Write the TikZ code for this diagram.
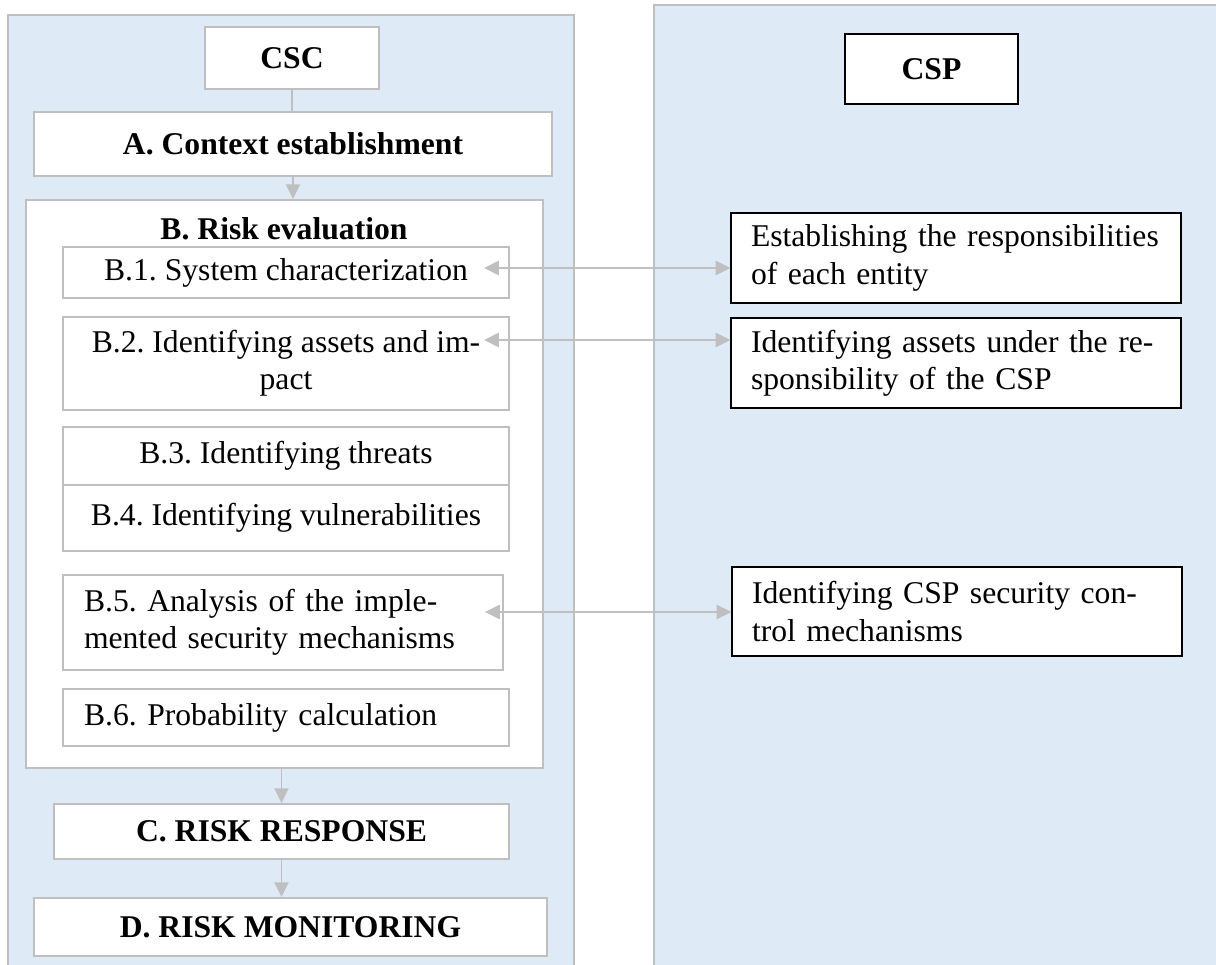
\documentclass[tikz,border=0pt]{standalone}
\usepackage{fontspec}
\setmainfont{Liberation Serif}
\usepackage{tikz}
\usetikzlibrary{arrows.meta,positioning,calc}
\tikzset{>=Latex}
\definecolor{panelblue}{RGB}{222,234,246}
\definecolor{linegray}{RGB}{191,191,191}
\def\px{0.025cm}
\def\lw{1.4pt}
\def\boxfont{\fontsize{22.5}{26.5}\selectfont\frenchspacing}
\tikzset{
  panel/.style={draw=linegray,fill=panelblue,line width=\lw},
  stepbox/.style={rectangle,draw=linegray,fill=white,line width=\lw,inner sep=0pt,align=center},
  headbox/.style={stepbox,font=\boxfont\bfseries},
  leftbox/.style={stepbox,align=left,text width=404*\px,inner xsep=21*\px},
  cspbox/.style={rectangle,draw=black,fill=white,line width=0.8pt,align=left,text width=410*\px,inner xsep=20*\px,inner ysep=0pt,minimum height=90*\px},
  flow/.style={draw=linegray,line width=\lw,-{Triangle[length=10.5pt,width=10pt]}},
  link/.style={draw=linegray,line width=\lw,{Triangle[length=10.5pt,width=10pt]}-{Triangle[length=10.5pt,width=10pt]}}
}

\begin{document}
\begin{tikzpicture}[x=\px,y=-\px,font=\boxfont]
  \useasboundingbox (0,0) rectangle (1216,965);
  \clip (0,0) rectangle (1216,965);

  %% the two sides
  \draw[panel] (8,15) rectangle (574,1000);
  \draw[panel] (654,5) rectangle (1240,1000);

  %% customer side
  \node[headbox,minimum width=174*\px,minimum height=62*\px] at (292,58) (csc) {CSC};
  \node[headbox,minimum width=518*\px,minimum height=64*\px] at (293,144) (context) {A. Context establishment};
  \node[stepbox,minimum width=517*\px,minimum height=568*\px] at (284.5,484) (riskeval) {};
  \node[anchor=base,font=\boxfont\bfseries] at (284,239) (btitle) {B. Risk evaluation};
  \node[stepbox,minimum width=446*\px,minimum height=51*\px] at (286,272.5) (sysch) {B.1. System characterization};
  \node[stepbox,minimum width=446*\px,minimum height=93*\px] at (286,363.5) (assets) {B.2. Identifying assets and im-\\pact};
  \node[stepbox,minimum width=446*\px,minimum height=58*\px] at (286,456) (threats) {B.3. Identifying threats};
  \node[stepbox,minimum width=446*\px,minimum height=66*\px] at (286,518) (vulns) {B.4. Identifying vulnerabilities};
  \node[leftbox,text width=398*\px,minimum height=95*\px] at (283,622.5) (mechs) {B.5. Analysis of the imple-\\mented security mechanisms};
  \node[leftbox,minimum height=57*\px] at (286,717.5) (prob) {B.6. Probability calculation};
  \node[headbox,minimum width=455*\px,minimum height=55*\px] at (281.5,831.5) (response) {C. RISK RESPONSE};
  \node[headbox,minimum width=513*\px,minimum height=58*\px] at (290.5,927) (monitor) {D. RISK MONITORING};

  \draw[linegray,line width=\lw] (csc.south) -- (csc.south |- context.north);
  \draw[flow] (context.south) -- (context.south |- riskeval.north);
  \draw[flow] (response.north |- riskeval.south) -- (response.north);
  \draw[flow] (response.south) -- (response.south |- monitor.north);

  %% provider side
  \node[headbox,draw=black,line width=0.8pt,minimum width=173*\px,minimum height=70*\px] at (931.5,69) (csp) {CSP};
  \node[cspbox] at (956,258) (roles) {Establishing the responsibilities\\of each entity};
  \node[cspbox] at (956,363) (cspassets) {Identifying assets under the re-\\sponsibility of the CSP};
  \node[cspbox,minimum height=89*\px] at (957,611.5) (cspctrl) {Identifying CSP security con-\\trol mechanisms};

  %% shared steps
  \coordinate (l1) at (484,268);
  \coordinate (l2) at (484,340);
  \coordinate (l3) at (485,612);
  \draw[link] (l1) -- (l1 -| roles.west);
  \draw[link] (l2) -- (l2 -| cspassets.west);
  \draw[link] (l3) -- (l3 -| cspctrl.west);
\end{tikzpicture}
\end{document}
